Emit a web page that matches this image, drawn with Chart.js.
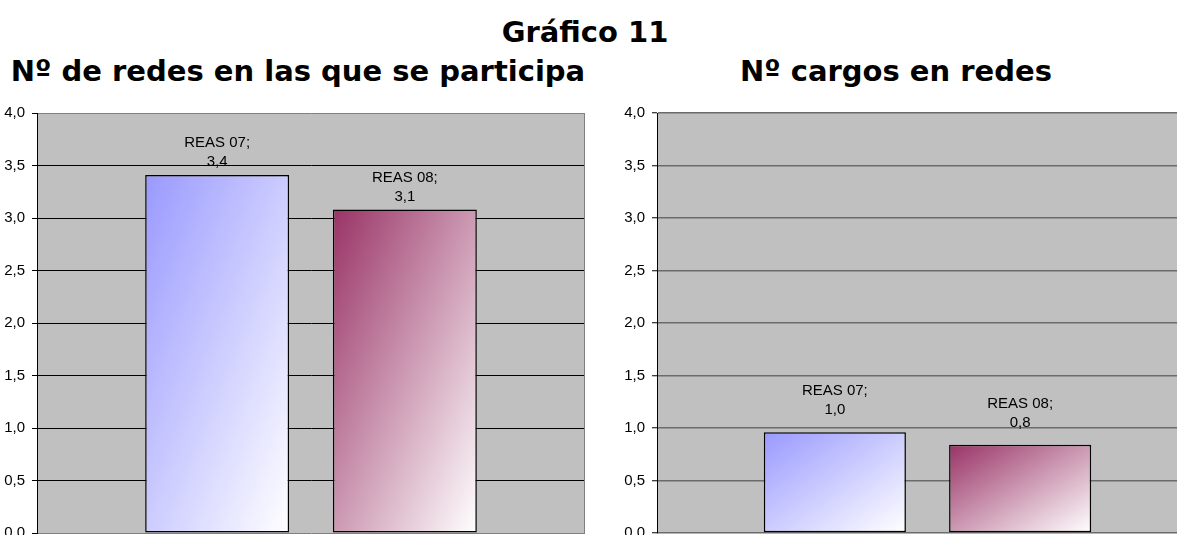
<!DOCTYPE html>
<html>
<head>
<meta charset="utf-8">
<script src="https://cdn.jsdelivr.net/npm/chart.js@4"></script>
<style>
    html, body { margin: 0; padding: 0; overflow: hidden; background: #fff; }
    body { position: relative; width: 1177px; height: 535px; font-family: 'DejaVu Sans', Verdana, sans-serif; }
    .title { position: absolute; font-weight: bold; font-size: 29px; line-height: 1; white-space: nowrap; transform: translateX(-50%); color: #000; }
    canvas { position: absolute; top: 97px; }
</style>
</head>
<body>
<div class="title" style="left:585px; top:18px;">Gráfico 11</div>
<div class="title" style="left:298px; top:57px;">Nº de redes en las que se participa</div>
<div class="title" style="left:896px; top:57px;">Nº cargos en redes</div>
<canvas id="redes-chart" width="590" height="452" style="left:0px;"></canvas>
<canvas id="cargos-chart" width="613" height="452" style="left:590px;"></canvas>

<script>
// --- DATOS ---
const seriesNames = ['REAS 07', 'REAS 08'];
const redesValues = [3.41, 3.08];
const cargosValues = [0.96, 0.84];
const yMin = 0;
const yMax = 4;
const yStep = 0.5;

// --- COLORES ---
const seriesColors = ['#9999FF', '#993366'];

const formatNum = v => v.toFixed(1).replace('.', ',');

// fondo gris del área del gráfico
const plotBackground = {
    id: 'plotBackground',
    beforeDraw(chart, args, opts) {
        const { ctx, chartArea: a } = chart;
        ctx.save();
        ctx.fillStyle = '#C0C0C0';
        ctx.fillRect(a.left, a.top, a.right - a.left, a.bottom - a.top);
        ctx.restore();
    },
    beforeDatasetsDraw(chart, args, opts) {
        if (!opts.rightBorder) return;
        const { ctx, chartArea: a } = chart;
        ctx.save();
        ctx.strokeStyle = opts.rightBorder;
        ctx.lineWidth = 1;
        ctx.beginPath();
        ctx.moveTo(a.right - 0.5, a.top);
        ctx.lineTo(a.right - 0.5, a.bottom);
        ctx.stroke();
        ctx.restore();
    }
};

// degradado diagonal (color -> blanco) en cada barra
const barGradient = {
    id: 'barGradient',
    beforeDatasetsDraw(chart) {
        const ctx = chart.ctx;
        chart.data.datasets.forEach((ds, di) => {
            chart.getDatasetMeta(di).data.forEach(el => {
                const p = el.getProps(['x', 'y', 'width', 'base'], true);
                const w = p.width, h = p.base - p.y;
                const left = p.x - w / 2, top = p.y;
                const k = 2 * w * h / (h * h + w * w);
                const g = ctx.createLinearGradient(left, top, left + h * k, top + w * k);
                g.addColorStop(0, seriesColors[di]);
                g.addColorStop(1, '#FFFFFF');
                el.options = Object.assign({}, el.options, { backgroundColor: g });
            });
        });
    }
};

// etiquetas "REAS 07;" / valor encima de cada barra
const barLabels = {
    id: 'barLabels',
    afterDatasetsDraw(chart, args, opts) {
        const ctx = chart.ctx;
        ctx.save();
        ctx.font = '15px Arial, "Liberation Sans", sans-serif';
        ctx.fillStyle = '#000';
        ctx.textAlign = 'center';
        ctx.textBaseline = 'middle';
        chart.data.datasets.forEach((ds, di) => {
            chart.getDatasetMeta(di).data.forEach((el, i) => {
                const yv = el.y - opts.offset;
                ctx.fillText(ds.label + ';', el.x, yv - 19);
                ctx.fillText(formatNum(ds.data[i]), el.x, yv);
            });
        });
        ctx.restore();
    }
};

function renderChart(id, values, axisWidth, gridColor, gridWidth, labelOffset, rightBorder) {
    const ctx = document.getElementById(id).getContext('2d');
    return new Chart(ctx, {
        type: 'bar',
        data: {
            labels: [''],
            datasets: seriesNames.map((name, i) => ({
                label: name,
                data: [values[i]],
                backgroundColor: seriesColors[i],
                borderColor: '#000',
                borderWidth: 1.5,
                borderSkipped: false,
                categoryPercentage: 0.685,
                barPercentage: 0.767
            }))
        },
        options: {
            responsive: false,
            animation: false,
            events: [],
            layout: { padding: { top: 8, right: 5, bottom: 10, left: 0 } },
            plugins: {
                legend: { display: false },
                tooltip: { enabled: false },
                plotBackground: { rightBorder: rightBorder },
                barLabels: { offset: labelOffset }
            },
            scales: {
                x: { display: false },
                y: {
                    min: yMin,
                    max: yMax,
                    afterFit: s => { s.width = axisWidth; },
                    ticks: {
                        stepSize: yStep,
                        padding: 7,
                        color: '#000',
                        font: { family: 'Arial', size: 15 },
                        callback: v => formatNum(v)
                    },
                    grid: {
                        color: gridColor,
                        lineWidth: gridWidth,
                        tickColor: '#000',
                        tickLength: 5,
                        tickWidth: 1
                    },
                    border: { display: true, color: '#000', width: 1 }
                }
            }
        },
        plugins: [plotBackground, barGradient, barLabels]
    });
}

renderChart('redes-chart', redesValues, 37,
    c => (c.tick.value === yMin || c.tick.value === yMax) ? '#808080' : '#000000', 1, 13, '#808080');
renderChart('cargos-chart', cargosValues, 67, '#6b6b6b', 1.5, 22, null);
</script>
</body>
</html>
